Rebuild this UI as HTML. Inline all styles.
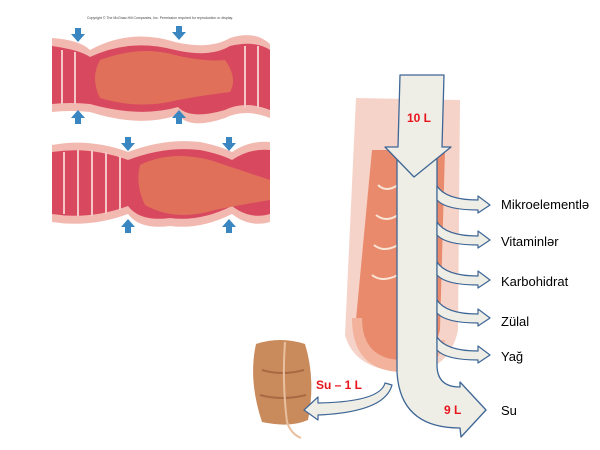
<!DOCTYPE html>
<html><head><meta charset="utf-8"><style>
html,body{margin:0;padding:0;background:#fff;width:600px;height:450px;overflow:hidden}
svg{display:block}
text{font-family:"Liberation Sans",sans-serif}
</style></head><body>
<svg width="600" height="450" viewBox="0 0 600 450">
<text x="160" y="19" font-size="3.5" fill="#444" text-anchor="middle">Copyright © The McGraw-Hill Companies, Inc. Permission required for reproduction or display.</text>
<g>
 <path d="M52,38 Q80,40 90,50 Q130,28 175,42 Q210,50 230,38 Q255,30 270,44 L270,118 Q245,108 225,118 Q190,130 178,115 Q140,128 90,112 Q70,110 52,112 Z" fill="#f2b9b0"/>
 <path d="M52,46 Q80,50 90,57 Q130,38 175,50 Q210,58 230,46 Q255,40 270,50 L270,110 Q245,100 225,110 Q190,120 178,107 Q140,118 90,104 Q70,102 52,104 Z" fill="#d8485e"/>
 <path d="M100,60 Q140,45 175,55 Q205,62 225,60 Q238,78 230,92 Q205,95 178,100 Q140,110 100,98 Q90,78 100,60Z" fill="#e0705a"/>
 <g stroke="#f4c6c6" stroke-width="2">
  <line x1="62" y1="50" x2="62" y2="104"/><line x1="75" y1="52" x2="75" y2="104"/><line x1="245" y1="46" x2="245" y2="108"/><line x1="258" y1="46" x2="258" y2="108"/>
 </g>
 <path d="M52,145 Q90,138 128,152 Q165,138 200,142 Q220,146 232,152 Q250,140 270,142 L270,222 Q250,228 232,214 Q200,230 170,226 Q140,230 128,214 Q90,228 52,222 Z" fill="#f2b9b0"/>
 <path d="M52,152 Q90,146 128,160 Q165,146 200,150 Q220,154 232,160 Q250,148 270,150 L270,214 Q250,220 232,206 Q200,222 170,218 Q140,222 128,206 Q90,220 52,214 Z" fill="#d8485e"/>
 <path d="M140,165 Q170,150 210,160 Q240,170 270,180 L270,200 Q240,205 215,210 Q175,222 145,205 Q135,185 140,165Z" fill="#e0705a"/>
 <g stroke="#f4c6c6" stroke-width="2">
  <line x1="64" y1="152" x2="64" y2="214"/><line x1="78" y1="150" x2="78" y2="216"/><line x1="92" y1="150" x2="92" y2="216"/><line x1="106" y1="152" x2="106" y2="214"/><line x1="120" y1="156" x2="120" y2="210"/>
 </g>
 <g fill="#3a86c0">
  <path d="M75,28 h6 v6 h4 l-7,8 l-7,-8 h4z"/><path d="M176,26 h6 v6 h4 l-7,8 l-7,-8 h4z"/>
  <path d="M75,124 h6 v-6 h4 l-7,-8 l-7,8 h4z"/><path d="M176,124 h6 v-6 h4 l-7,-8 l-7,8 h4z"/>
  <path d="M125,137 h6 v6 h4 l-7,8 l-7,-8 h4z"/><path d="M226,137 h6 v6 h4 l-7,8 l-7,-8 h4z"/>
  <path d="M125,233 h6 v-6 h4 l-7,-8 l-7,8 h4z"/><path d="M226,233 h6 v-6 h4 l-7,-8 l-7,8 h4z"/>
 </g>
</g>
<!-- right intestine segment -->
<path d="M356,98 L460,100 L458,330 Q450,370 410,372 Q355,372 345,335 Z" fill="#f6d3c8"/>
<path d="M372,150 L445,150 L440,330 Q432,362 405,362 Q362,360 355,330 Z" fill="#e98a6c"/>
<path d="M352,318 Q352,370 400,372 Q440,370 445,340 L430,340 Q420,360 400,360 Q362,358 362,318Z" fill="#f2b29c"/>
<g stroke="#fbe5d6" stroke-width="2" fill="none">
 <path d="M378,185 q8,8 20,0 M376,215 q10,8 22,0 M374,245 q10,8 24,0 M372,275 q10,8 26,0"/>
</g>
<!-- colon -->
<path d="M256,344 Q280,336 305,344 Q316,380 308,420 Q290,428 262,422 Q248,380 256,344Z" fill="#c98a5c"/>
<path d="M262,370 q20,6 42,0 M260,395 q22,6 46,0" stroke="#a86a44" stroke-width="2" fill="none"/>
<path d="M285,342 q-3,40 2,80 q4,12 14,16" stroke="#e8c0a0" stroke-width="2" fill="none"/>
<!-- main arrow shaft -->
<path d="M397,150 L437,150 L437,365 Q437,387 460,387 L460,382 L486,410 L461,437 L460,428 Q400,428 397,372 Z" fill="#eeeee6" stroke="#3e6696" stroke-width="1.3" stroke-linejoin="round"/>
<!-- head on top -->
<path d="M400,75 L444,75 L442,147 L451,147 L414,177 L385,147 L398,147 Z" fill="#eeeee6" stroke="#3e6696" stroke-width="1.3" stroke-linejoin="round"/>
<!-- hide head bottom edges inside shaft except visible lines -->
<!-- branch arrows -->
<g fill="#eeeee6" stroke="#3e6696" stroke-width="1.2" stroke-linejoin="round">
 <path d="M437,186 Q446,200 478,200 L478,196 L490,205 L478,213 L478,210 Q446,210 437,200Z"/>
 <path d="M437,222 Q446,236 478,236 L478,231 L490,240 L478,248 L478,245 Q446,245 437,235Z"/>
 <path d="M437,262 Q446,276 478,276 L478,271 L490,280 L478,288 L478,285 Q446,285 437,275Z"/>
 <path d="M437,300 Q446,314 478,314 L478,309 L490,318 L478,326 L478,323 Q446,323 437,313Z"/>
 <path d="M437,337 Q446,351 478,351 L478,346 L490,355 L478,363 L478,360 Q446,360 437,350Z"/>
 <path d="M385,383 Q380,402 318,403 L318,397 L304,410 L318,420 L318,415 Q385,412 392,385Z"/>
</g>
<g font-size="13" fill="#000">
 <text x="501" y="209">Mikroelementlə</text>
 <text x="501" y="246">Vitaminlər</text>
 <text x="501" y="286">Karbohidrat</text>
 <text x="501" y="326">Zülal</text>
 <text x="501" y="361">Yağ</text>
 <text x="501" y="415">Su</text>
</g>
<g font-size="12" font-weight="bold" fill="#e8141c">
 <text x="407" y="122">10 L</text>
 <text x="316" y="389">Su – 1 L</text>
 <text x="444" y="414">9 L</text>
</g>
</svg>
</body></html>
